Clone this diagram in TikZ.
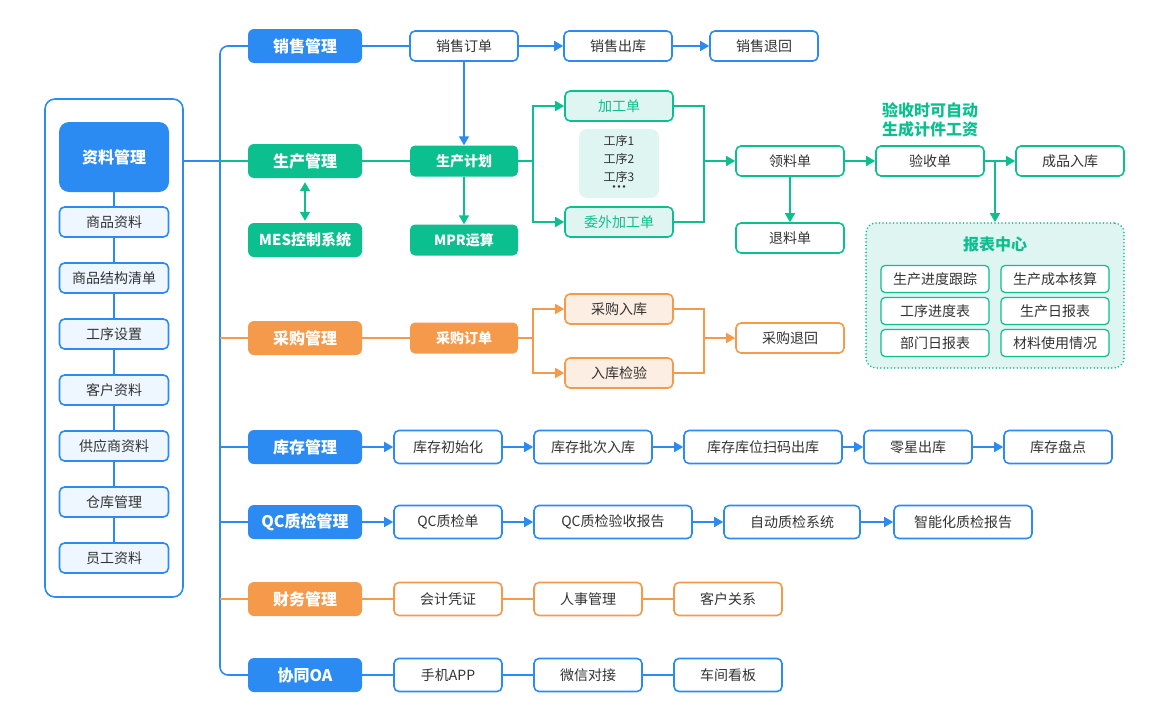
\documentclass[tikz,border=0pt]{standalone}
\usepackage{fontspec}
\setmainfont{Noto Sans CJK SC}
\usetikzlibrary{arrows.meta,calc}
\definecolor{cb}{HTML}{2B8BF2}
\definecolor{cg}{HTML}{0CBF8F}
\definecolor{co}{HTML}{F59A4A}
\definecolor{tx}{HTML}{333333}
\definecolor{lbf}{HTML}{EEF6FF}
\definecolor{ltf}{HTML}{DFF5F2}
\definecolor{lof}{HTML}{FCEEE3}
\tikzset{
  base/.style={rounded corners=5pt, line width=1.6pt, inner sep=0pt, minimum height=30pt, font=\fontsize{14}{16}\selectfont, text=tx},
  wb/.style={base, draw=cb, fill=white},
  wg/.style={base, draw=cg, fill=white},
  wo/.style={base, draw=co, fill=white},
  pitem/.style={base, draw=cb, fill=lbf, minimum width=109pt},
  hdr/.style={rounded corners=6pt, inner sep=0pt, minimum width=114pt, minimum height=34pt, font=\bfseries\fontsize{16}{18}\selectfont, text=white},
  sub/.style={rounded corners=5pt, inner sep=0pt, minimum width=108pt, minimum height=31pt, font=\bfseries\fontsize{14}{16}\selectfont, text=white},
  rep/.style={rounded corners=4pt, line width=1.2pt, draw=cg, fill=white, inner sep=0pt, minimum width=108pt, minimum height=27pt, font=\fontsize{14}{16}\selectfont, text=tx},
  lnb/.style={draw=cb, line width=1.6pt},
  lng/.style={draw=cg, line width=1.6pt},
  lno/.style={draw=co, line width=1.6pt},
  arr/.style={-{Triangle[length=9pt,width=10pt]}},
  arrb/.style={{Triangle[length=9pt,width=10pt]}-{Triangle[length=9pt,width=10pt]}}
}
\begin{document}
\begin{tikzpicture}[x=1pt,y=-1pt]
\useasboundingbox (0,0) rectangle (1170,720);
\coordinate (tr) at (220,0);
\coordinate (sp) at (533,0);
\coordinate (mg) at (704,0);

% left panel
\node[draw=cb, line width=1.6pt, rounded corners=10pt, minimum width=138pt, minimum height=498pt, inner sep=0pt] (panel) at (114,348) {};
\node[rounded corners=10pt, fill=cb, minimum width=110pt, minimum height=70pt, inner sep=0pt, font=\bfseries\fontsize{16}{18}\selectfont, text=white] (zl) at (114,157) {资料管理};
\node[pitem] (p1) at (114,222) {商品资料};
\node[pitem] (p2) at (114,278) {商品结构清单};
\node[pitem] (p3) at (114,334) {工序设置};
\node[pitem] (p4) at (114,390) {客户资料};
\node[pitem] (p5) at (114,446) {供应商资料};
\node[pitem] (p6) at (114,502) {仓库管理};
\node[pitem] (p7) at (114,558) {员工资料};
\draw[lnb] (zl.south) -- (p1.north);
\draw[lnb] (p1.south) -- (p2.north);
\draw[lnb] (p2.south) -- (p3.north);
\draw[lnb] (p3.south) -- (p4.north);
\draw[lnb] (p4.south) -- (p5.north);
\draw[lnb] (p5.south) -- (p6.north);
\draw[lnb] (p6.south) -- (p7.north);

% headers
\node[hdr, fill=cb] (h1) at (305,46) {销售管理};
\node[hdr, fill=cg] (h2) at (305,161) {生产管理};
\node[hdr, fill=cg, font=\bfseries\fontsize{15}{17}\selectfont] (mes) at (305,240) {MES控制系统};
\node[hdr, fill=co] (h3) at (305,338) {采购管理};
\node[hdr, fill=cb] (h4) at (305,447) {库存管理};
\node[hdr, fill=cb] (h5) at (305,522) {QC质检管理};
\node[hdr, fill=co] (h6) at (305,599) {财务管理};
\node[hdr, fill=cb] (h7) at (305,675) {协同OA};

% trunk
\draw[lnb, rounded corners=8pt] (h1.west) -- (tr |- h1.west) -- (tr |- h7.west) -- (h7.west);
\draw[lnb] (panel.east |- h2.west) -- (tr |- h2.west);
\draw[lng] (tr |- h2.west) -- (h2.west);
\draw[lno] (tr |- h3.west) -- (h3.west);
\draw[lnb] (tr |- h4.west) -- (h4.west);
\draw[lnb] (tr |- h5.west) -- (h5.west);
\draw[lno] (tr |- h6.west) -- (h6.west);

% sales row
\node[wb, minimum width=108pt] (so) at (464,46) {销售订单};
\node[wb, minimum width=108pt] (sc) at (618,46) {销售出库};
\node[wb, minimum width=108pt] (st) at (764,46) {销售退回};
\draw[lnb] (h1.east) -- (so.west);
\draw[lnb, arr] (so.east) -- (sc.west);
\draw[lnb, arr] (sc.east) -- (st.west);

% production
\node[sub, fill=cg] (pp) at (464,161) {生产计划};
\node[sub, fill=cg] (mpr) at (464,240) {MPR运算};
\draw[lnb, arr] (so.south) -- (pp.north);
\draw[lng, arr] (pp.south) -- (mpr.north);
\draw[lng] (h2.east) -- (pp.west);
\draw[lng, arrb, shorten <=4pt, shorten >=2pt] (h2.south) -- (mes.north);

\node[base, draw=cg, fill=ltf, text=cg, minimum width=108pt] (jg) at (619,106) {加工单};
\node[base, draw=cg, fill=ltf, text=cg, minimum width=108pt] (ww) at (619,222) {委外加工单};
\node[rounded corners=8pt, fill=ltf, minimum width=80pt, minimum height=69pt, inner sep=0pt, align=center, text=tx, font=\fontsize{12}{18}\selectfont] (gx) at (619,163.5) {工序1\\工序2\\工序3\\[-8pt]·\kern-7pt·\kern-7pt·};
\draw[lng, arr] (pp.east) -- (sp |- pp.east) |- (jg.west);
\draw[lng, arr] (pp.east) -- (sp |- pp.east) |- (ww.west);
\draw[lng] (jg.east) -- (mg |- jg.east) |- (ww.east);

\node[wg, minimum width=108pt] (ll) at (790,161) {领料单};
\node[wg, minimum width=108pt] (tl) at (790,238) {退料单};
\node[wg, minimum width=108pt] (ys) at (930,161) {验收单};
\node[wg, minimum width=108pt] (cp) at (1070,161) {成品入库};
\draw[lng, arr] (mg |- ll.west) -- (ll.west);
\draw[lng, arr] (ll.south) -- (tl.north);
\draw[lng, arr] (ll.east) -- (ys.west);
\draw[lng, arr] (ys.east) -- (cp.west);

\node[align=center, text=cg, font=\bfseries\fontsize{16}{19}\selectfont] (note) at (930,120) {验收时可自动\\生成计件工资};

% report center
\node[draw=cg, fill=ltf, line width=1.8pt, line cap=round, dash pattern=on 0pt off 3.5pt, rounded corners=10pt, minimum width=258pt, minimum height=145pt, inner sep=0pt] (rc) at (995,295.5) {};
\draw[lng, arr] (rc.north |- ys.east) -- (rc.north);
\node[text=cg, font=\bfseries\fontsize{16}{18}\selectfont] (rct) at (995,244) {报表中心};
\node[rep] (r1) at (935,279) {生产进度跟踪};
\node[rep] (r2) at (1055,279) {生产成本核算};
\node[rep] (r3) at (935,311) {工序进度表};
\node[rep] (r4) at (1055,311) {生产日报表};
\node[rep] (r5) at (935,343) {部门日报表};
\node[rep] (r6) at (1055,343) {材料使用情况};

% purchase
\node[sub, fill=co] (po) at (464,338) {采购订单};
\node[base, draw=co, fill=lof, minimum width=108pt] (pr) at (619,309) {采购入库};
\node[base, draw=co, fill=lof, minimum width=108pt] (pc) at (619,373) {入库检验};
\node[wo, minimum width=108pt] (pt) at (790,338) {采购退回};
\draw[lno] (h3.east) -- (po.west);
\draw[lno, arr] (po.east) -- (sp |- po.east) |- (pr.west);
\draw[lno, arr] (po.east) -- (sp |- po.east) |- (pc.west);
\draw[lno] (pr.east) -- (mg |- pr.east) |- (pc.east);
\draw[lno, arr] (mg |- pt.west) -- (pt.west);

% inventory
\node[wb, minimum width=108pt, minimum height=33pt] (k1) at (448,447) {库存初始化};
\node[wb, minimum width=118pt, minimum height=33pt] (k2) at (593,447) {库存批次入库};
\node[wb, minimum width=158pt, minimum height=33pt] (k3) at (763,447) {库存库位扫码出库};
\node[wb, minimum width=108pt, minimum height=33pt] (k4) at (918,447) {零星出库};
\node[wb, minimum width=108pt, minimum height=33pt] (k5) at (1058,447) {库存盘点};
\draw[lnb, arr] (h4.east) -- (k1.west);
\draw[lnb, arr] (k1.east) -- (k2.west);
\draw[lnb, arr] (k2.east) -- (k3.west);
\draw[lnb, arr] (k3.east) -- (k4.west);
\draw[lnb, arr] (k4.east) -- (k5.west);

% QC
\node[wb, minimum width=108pt, minimum height=33pt] (q1) at (448,522) {QC质检单};
\node[wb, minimum width=158pt, minimum height=33pt] (q2) at (613,522) {QC质检验收报告};
\node[wb, minimum width=136pt, minimum height=33pt] (q3) at (792,522) {自动质检系统};
\node[wb, minimum width=138pt, minimum height=33pt] (q4) at (963,522) {智能化质检报告};
\draw[lnb, arr] (h5.east) -- (q1.west);
\draw[lnb, arr] (q1.east) -- (q2.west);
\draw[lnb, arr] (q2.east) -- (q3.west);
\draw[lnb, arr] (q3.east) -- (q4.west);

% finance
\node[wo, minimum width=108pt, minimum height=33pt] (f1) at (448,599) {会计凭证};
\node[wo, minimum width=108pt, minimum height=33pt] (f2) at (588,599) {人事管理};
\node[wo, minimum width=108pt, minimum height=33pt] (f3) at (728,599) {客户关系};
\draw[lno] (h6.east) -- (f1.west);
\draw[lno] (f1.east) -- (f2.west);
\draw[lno] (f2.east) -- (f3.west);

% OA
\node[wb, minimum width=108pt, minimum height=33pt] (o1) at (448,675) {手机APP};
\node[wb, minimum width=108pt, minimum height=33pt] (o2) at (588,675) {微信对接};
\node[wb, minimum width=108pt, minimum height=33pt] (o3) at (728,675) {车间看板};
\draw[lnb] (h7.east) -- (o1.west);
\draw[lnb] (o1.east) -- (o2.west);
\draw[lnb] (o2.east) -- (o3.west);
\end{tikzpicture}
\end{document}
